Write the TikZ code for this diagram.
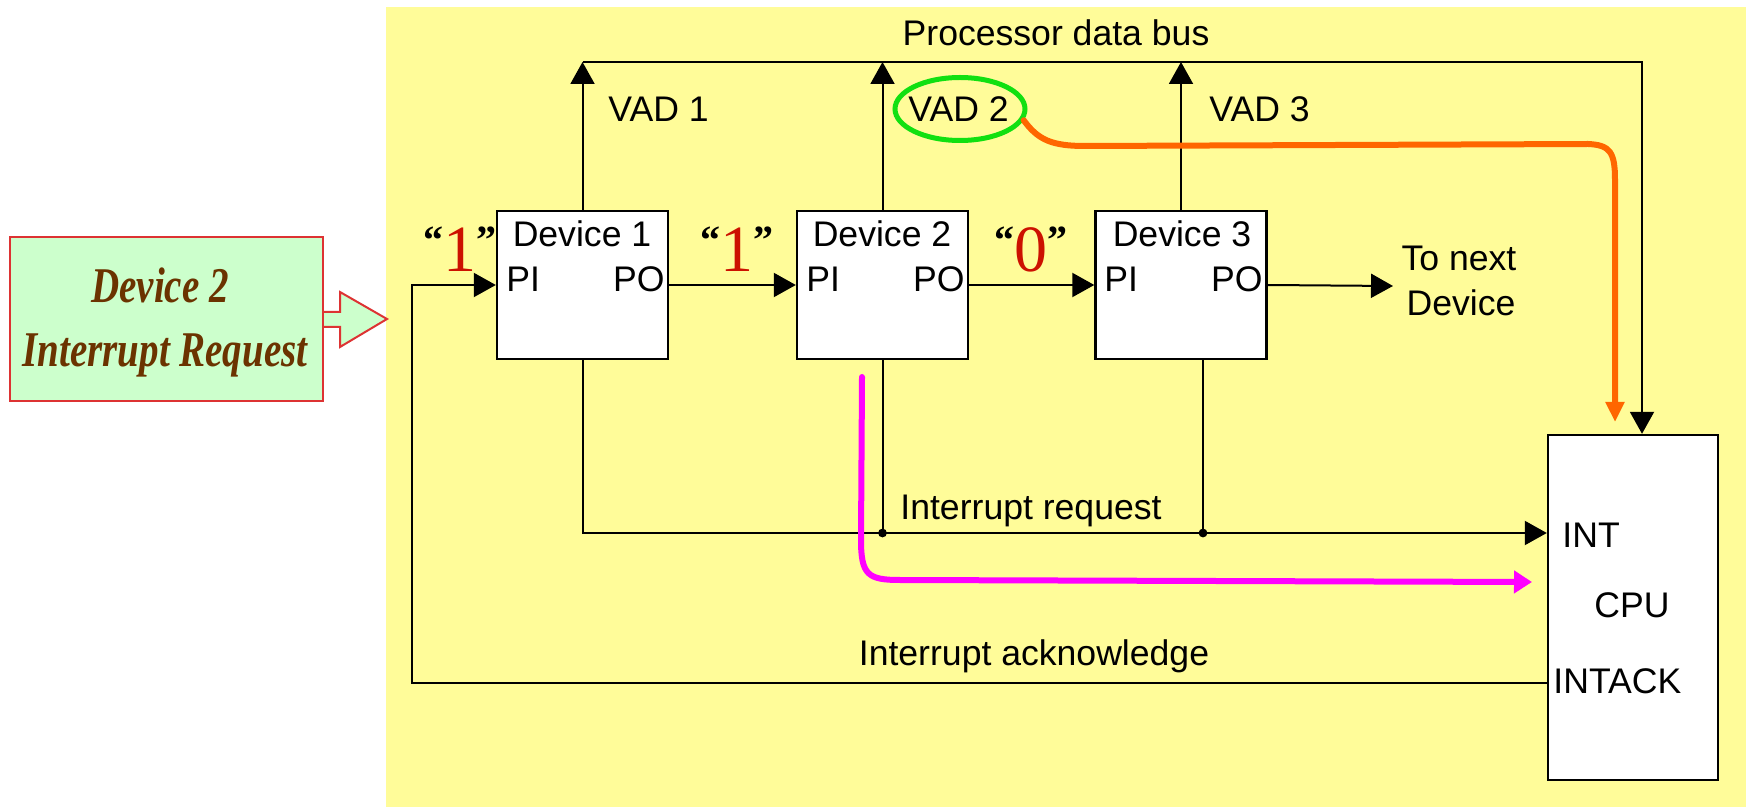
\documentclass[tikz,border=0pt]{standalone}
\usepackage{fontspec}
\setmainfont{Liberation Sans}
\newfontfamily\condserif[FakeStretch=0.78]{Liberation Serif}
\newfontfamily\numserif{Liberation Serif}
\usetikzlibrary{arrows.meta,shapes.geometric,calc}
\definecolor{bgyellow}{HTML}{FFFC99}
\definecolor{reqgreen}{HTML}{CCFFCC}
\definecolor{reqred}{HTML}{DD3333}
\definecolor{reqbrown}{HTML}{6B3300}
\definecolor{numred}{HTML}{CC1100}
\definecolor{hlorange}{HTML}{FF6600}
\definecolor{hlmagenta}{HTML}{FF00FF}
\definecolor{hlgreen}{HTML}{11E011}
\newcommand\quotednum[1]{{\numserif\bfseries\fontsize{20pt}{20pt}\selectfont\raisebox{9pt}{“}}{\numserif\fontsize{33pt}{33pt}\selectfont\textcolor{numred}{#1}}{\numserif\bfseries\fontsize{20pt}{20pt}\selectfont\raisebox{9pt}{”}}}
\tikzset{
  lbl/.style={inner sep=0pt, font=\fontsize{17.8pt}{21pt}\selectfont},
  wire/.style={line width=1pt, black},
  ar/.style={wire, -{Triangle[length=11pt,width=12pt]}},
  devbox/.style={draw, line width=1.2pt, fill=white, inner sep=0pt, minimum width=85.5pt, minimum height=74pt},
  cpubox/.style={draw, line width=1.2pt, fill=white, inner sep=0pt, minimum width=85pt, minimum height=172.5pt},
  reqbox/.style={draw=reqred, line width=1pt, fill=reqgreen, inner sep=0pt, minimum width=156.5pt, minimum height=82pt},
  reqtext/.style={inner sep=0pt, text=reqbrown, font=\condserif\bfseries\itshape\fontsize{25pt}{32pt}\selectfont},
  quoted/.style={inner sep=0pt, anchor=base},
  ring/.style={draw=hlgreen, line width=2.5pt, ellipse, inner sep=0pt, minimum width=65pt, minimum height=31.5pt},
  orangepath/.style={draw=hlorange, line width=3pt, line cap=round, -{Triangle[length=10pt,width=9pt]}},
  magentapath/.style={draw=hlmagenta, line width=3pt, line cap=round, -{Triangle[length=9pt,width=11pt]}},
}
\begin{document}
\begin{tikzpicture}[x=0.5pt,y=-0.5pt]
\useasboundingbox (0,0) rectangle (1746,807);
\fill[white] (0,0) rectangle (1746,807);
\fill[bgyellow] (386,7) rectangle (1746,807);

% request call-out
\node[reqbox] (req) at (166.5,319) {};
\draw[draw=reqred, fill=reqgreen, line width=1pt, line join=miter]
  (req.east |- 0,312) -- (340,312) -- (340,292) -- (387,319) -- (340,347) -- (340,327) -- (req.east |- 0,327);
\node[reqtext, anchor=base] (reqa) at (160,303) {Device 2};
\node[reqtext, anchor=base] (reqb) at (165,367) {Interrupt Request};

% helper coordinates
\coordinate (busy) at (0,62);
\coordinate (irq) at (0,533);
\coordinate (ackx) at (412,683);
\coordinate (nextpt) at (1393,286);

% boxes
\node[devbox] (d1) at (582.5,285) {};
\node[devbox] (d2) at (882.5,285) {};
\node[devbox] (d3) at (1181,285) {};
\node[cpubox] (cpu) at (1633,607.5) {};

% processor data bus
\draw[ar] (d1.north) -- (d1.north |- busy);
\draw[ar] (d2.north) -- (d2.north |- busy);
\draw[ar] (d3.north) -- (d3.north |- busy);
\draw[ar] (d1.north |- busy) -| ([xshift=4.5pt]cpu.north);

% daisy chain
\draw[ar] (d1.east) -- (d2.west);
\draw[ar] (d2.east) -- (d3.west);
\draw[ar] (d3.east) -- (nextpt);

% interrupt request
\draw[ar] (d1.south) |- (cpu.west |- irq);
\draw[wire] (d2.south) -- (d2.south |- irq);
\draw[wire] ([xshift=11pt]d3.south) -- ([xshift=11pt]d3.south |- irq);
\fill (d2.south |- irq) circle[radius=2.2pt];
\fill ([xshift=11pt]d3.south |- irq) circle[radius=2.2pt];

% interrupt acknowledge
\draw[ar] (cpu.west |- ackx) -- (ackx) |- (d1.west);

% texts
\node[lbl, anchor=base] (busl) at (1056,46) {Processor data bus};
\node[lbl, anchor=base west] (vad1) at (608,122) {VAD 1};
\node[lbl, anchor=base west] (vad2) at (908,122) {VAD 2};
\node[lbl, anchor=base west] (vad3) at (1209,122) {VAD 3};

\node[lbl, anchor=base] (t1) at (582,247) {Device 1};
\node[lbl, anchor=base west] (pi1) at (506,292) {PI};
\node[lbl, anchor=base east] (po1) at (665,292) {PO};
\node[lbl, anchor=base] (t2) at (882,247) {Device 2};
\node[lbl, anchor=base west] (pi2) at (806,292) {PI};
\node[lbl, anchor=base east] (po2) at (965,292) {PO};
\node[lbl, anchor=base] (t3) at (1182,247) {Device 3};
\node[lbl, anchor=base west] (pi3) at (1104,292) {PI};
\node[lbl, anchor=base east] (po3) at (1263,292) {PO};

\node[lbl, anchor=base] (nxa) at (1459,271) {To next};
\node[lbl, anchor=base] (nxb) at (1461,316) {Device};

\node[lbl, anchor=base west] (irql) at (900,520) {Interrupt request};
\node[lbl, anchor=base] (ackl) at (1034,665) {Interrupt acknowledge};

\node[lbl, anchor=base west] (intl) at (1562,547) {INT};
\node[lbl, anchor=base] (cpul) at (1632,617) {CPU};
\node[lbl, anchor=base west] (intackl) at (1553,693) {INTACK};

\node[quoted] (q1) at (460,272) {\quotednum{1}};
\node[quoted] (q2) at (737,272) {\quotednum{1}};
\node[quoted] (q3) at (1031,272) {\quotednum{0}};

% highlights
\node[ring] (vadring) at (960,109) {};
\draw[orangepath] (vadring.-10) .. controls (1038,140) and (1052,146) .. (1085,146)
  -- (1588,144) .. controls (1610,145) and (1615,152) .. (1615,180) -- (1615,422);
\coordinate (magstart) at (862,377);
\draw[magentapath] (magstart) -- (861,540) .. controls (861,575) and (868,580) .. (900,580) -- (1532,582);
\end{tikzpicture}
\end{document}
